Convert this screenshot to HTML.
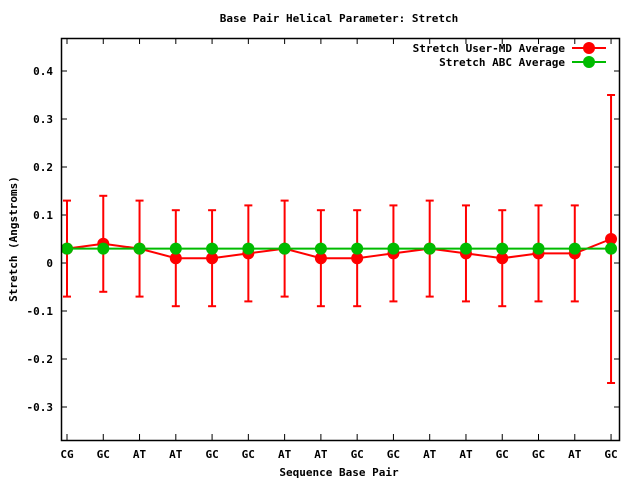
<!DOCTYPE html>
<html><head><style>
body{margin:0;background:#fff}
svg text{font-family:"DejaVu Sans Mono","Liberation Mono",monospace;font-size:11px;font-weight:bold;fill:#000}
</style></head><body>
<svg id="s" width="640" height="480" xmlns="http://www.w3.org/2000/svg">
<rect width="640" height="480" fill="#fff"/>
<text x="339" y="22" text-anchor="middle">Base Pair Helical Parameter: Stretch</text>
<text x="339" y="476" text-anchor="middle">Sequence Base Pair</text>
<text transform="translate(17,239) rotate(-90)" text-anchor="middle">Stretch (Angstroms)</text>
<g text-anchor="end">
<text x="53" y="75">0.4</text><text x="53" y="123">0.3</text><text x="53" y="171">0.2</text>
<text x="53" y="219">0.1</text><text x="53" y="267">0</text><text x="53" y="315">-0.1</text>
<text x="53" y="363">-0.2</text><text x="53" y="411">-0.3</text>
</g>
<g text-anchor="middle">
<text x="67" y="458">CG</text><text x="103.3" y="458">GC</text><text x="139.5" y="458">AT</text>
<text x="175.8" y="458">AT</text><text x="212.1" y="458">GC</text><text x="248.3" y="458">GC</text>
<text x="284.6" y="458">AT</text><text x="320.9" y="458">AT</text><text x="357.2" y="458">GC</text>
<text x="393.4" y="458">GC</text><text x="429.7" y="458">AT</text><text x="466" y="458">AT</text>
<text x="502.2" y="458">GC</text><text x="538.5" y="458">GC</text><text x="574.8" y="458">AT</text>
<text x="611" y="458">GC</text>
</g>
<g text-anchor="end">
<text x="565" y="52">Stretch User-MD Average</text>
<text x="565" y="66">Stretch ABC Average</text>
</g>
<line x1="572" y1="48" x2="606" y2="48" stroke="#f00" stroke-width="2"/>
<circle cx="589" cy="48" r="6" fill="#f00"/>
<line x1="572" y1="62" x2="606" y2="62" stroke="#0b0" stroke-width="2"/>
<circle cx="589" cy="62" r="6" fill="#0b0"/>
<g id="g"></g>
<rect x="61.5" y="38.5" width="558" height="402" fill="none" stroke="#000" stroke-width="1.5"/>
</svg>
<script>
var ns="http://www.w3.org/2000/svg",g=document.getElementById("g");
function el(t,a){var e=document.createElementNS(ns,t);for(var k in a)e.setAttribute(k,a[k]);g.appendChild(e);}
var yt=[0.4,0.3,0.2,0.1,0,-0.1,-0.2,-0.3];
function Y(v){return 263-v*480;}
yt.forEach(function(v){var y=Y(v);el("line",{x1:61,y1:y,x2:67,y2:y,stroke:"#000"});el("line",{x1:614,y1:y,x2:620,y2:y,stroke:"#000"});});
var xs=[];for(var i=0;i<16;i++){var x=67+i*36.27;xs.push(x);el("line",{x1:x,y1:440,x2:x,y2:434,stroke:"#000"});el("line",{x1:x,y1:38,x2:x,y2:44,stroke:"#000"});}
var r=[0.03,0.04,0.03,0.01,0.01,0.02,0.03,0.01,0.01,0.02,0.03,0.02,0.01,0.02,0.02,0.05];
var p="";
for(var i=0;i<16;i++){var x=xs[i],e=i==15?0.3:0.1,t=Y(r[i]+e),b=Y(r[i]-e);
el("line",{x1:x,y1:t,x2:x,y2:b,stroke:"#f00","stroke-width":2});
el("line",{x1:x-4,y1:t,x2:x+4,y2:t,stroke:"#f00","stroke-width":2});
el("line",{x1:x-4,y1:b,x2:x+4,y2:b,stroke:"#f00","stroke-width":2});
p+=(i?"L":"M")+x+" "+Y(r[i]);}
el("path",{d:p,stroke:"#f00","stroke-width":2,fill:"none"});
for(var i=0;i<16;i++)el("circle",{cx:xs[i],cy:Y(r[i]),r:6,fill:"#f00"});
el("line",{x1:xs[0],y1:Y(0.03),x2:xs[15],y2:Y(0.03),stroke:"#0b0","stroke-width":2});
for(var i=0;i<16;i++)el("circle",{cx:xs[i],cy:Y(0.03),r:6,fill:"#0b0"});
</script>
</body></html>
